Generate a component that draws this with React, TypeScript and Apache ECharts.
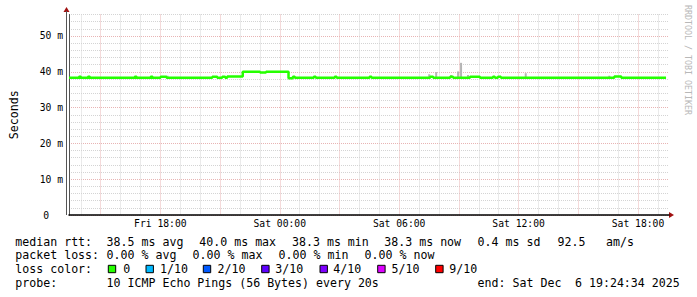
import React, { useEffect, useRef } from 'react';
import * as echarts from 'echarts';

// time in hours since Fri 00:00 (Dec 5 2025)
const lineTimes = [13.41, 13.91, 14.01, 14.36, 14.46, 16.71, 16.81, 17.51, 17.61, 18.01, 18.31, 20.61, 20.86, 21.11, 21.26, 21.36, 22.14, 23.01, 23.31, 24.44, 24.66, 24.76, 25.71, 25.81, 26.76, 26.86, 28.51, 28.61, 31.56, 31.71, 32.56, 32.71, 33.56, 34.06, 34.71, 34.81, 34.96, 35.11, 40.81, 41.16, 43.41];
const lineValues = [38.3, 38.6, 38.3, 38.6, 38.3, 38.6, 38.3, 38.6, 38.3, 38.6, 38.3, 38.6, 38.3, 38.6, 38.3, 38.7, 40.0, 39.8, 40.0, 38.2, 38.6, 38.3, 38.6, 38.3, 38.6, 38.3, 38.6, 38.3, 38.6, 38.3, 38.6, 38.3, 38.6, 38.3, 38.6, 38.3, 38.6, 38.3, 38.7, 38.3, 38.3];

const smokeTimes = [18.36, 31.51, 31.86, 32.61, 32.96, 33.11, 33.46, 36.36, 40.56];
const smokeLow = [38.2, 38.2, 38.2, 38.2, 38.2, 38.2, 38.2, 38.2, 38.2];
const smokeHigh = [38.9, 39.3, 39.9, 39.1, 40.1, 42.5, 39.1, 39.6, 38.9];

const labelHours = [18, 24, 30, 36, 42];
const labelTexts = ['Fri 18:00', 'Sat 00:00', 'Sat 06:00', 'Sat 12:00', 'Sat 18:00'];
const majorHours = [15, 18, 21, 24, 27, 30, 33, 36, 39, 42];
const minorHours = [14, 16, 17, 19, 20, 22, 23, 25, 26, 28, 29, 31, 32, 34, 35, 37, 38, 40, 41, 43];

const START = 13.409;
const XMAX = 43.559;

const legendLine1 = [
  [16, 'median rtt:'], [107.3, '38.5 ms avg'], [200, '40.0 ms max'], [292.7, '38.3 ms min'],
  [385, '38.3 ms now'], [478.3, '0.4 ms sd'], [558.3, '92.5'], [606.7, 'am/s'],
];
const legendLine2 = [
  [16, 'packet loss:'], [107.3, '0.00 % avg'], [193.3, '0.00 % max'], [279.3, '0.00 % min'], [365.3, '0.00 % now'],
];
const lossLabels = ['0', '1/10', '2/10', '3/10', '4/10', '5/10', '9/10'];
const lossColors = ['#26ff00', '#00b8ff', '#0059ff', '#5e00ff', '#7e00ff', '#dd00ff', '#ff0000'];
const lossBoxX = [108.3, 146, 203.3, 261.7, 320, 377.7, 435.7];
const lossTextX = [124, 160.7, 218.3, 276, 334, 392.3, 450];
const legendLine4 = [
  [16, 'probe:'], [107.3, '10 ICMP Echo Pings (56 Bytes) every 20s'], [478.3, 'end: Sat Dec'], [575.7, '6 19:24:34 2025'],
];

const MONO = '"DejaVu Sans Mono", monospace';
const RED = '#e8b4b4';
const GRAY = '#d4d4d4';

export default function App() {
  const ref = useRef<HTMLDivElement>(null);
  useEffect(() => {
    if (!ref.current) return;
    const chart = echarts.init(ref.current, null, { renderer: 'svg' });
    const txt = (x: number, y: number, s: string) => ({
      type: 'text', x, y, silent: true,
      style: { text: s, fill: '#000', fontFamily: MONO, fontSize: 11.6, verticalAlign: 'middle', align: 'left' },
    });
    const elements: any[] = [];
    legendLine1.forEach(([x, s]) => elements.push(txt(x as number - 0.7, 241.5, s as string)));
    legendLine2.forEach(([x, s]) => elements.push(txt(x as number - 0.7, 255.3, s as string)));
    elements.push(txt(15.3, 269, 'loss color:'));
    lossLabels.forEach((s, i) => {
      elements.push({ type: 'rect', silent: true, shape: { x: lossBoxX[i], y: 265.3, width: 7.4, height: 7.4 }, style: { fill: lossColors[i], stroke: '#000', lineWidth: 1 } });
      elements.push(txt(lossTextX[i] - 0.7, 269, s));
    });
    legendLine4.forEach(([x, s]) => elements.push(txt(x as number - 0.7, 283, s as string)));
    // watermark
    elements.push({
      type: 'text', x: 688, y: 60, rotation: -Math.PI / 2, silent: true,
      style: { text: 'RRDTOOL / TOBI OETIKER', fill: '#b8b8b8', fontFamily: MONO, fontSize: 8.3, align: 'center', verticalAlign: 'middle' },
    });
    // axis extensions and arrows
    elements.push({ type: 'line', silent: true, z: 10, shape: { x1: 66.5, y1: 215, x2: 66.5, y2: 11 }, style: { stroke: '#555', lineWidth: 1 } });
    elements.push({ type: 'polygon', silent: true, shape: { points: [[63.5, 12], [66.5, 7], [69.5, 12]] }, style: { fill: '#a01010' } });
    elements.push({ type: 'line', silent: true, shape: { x1: 669, y1: 215, x2: 670, y2: 215 }, style: { stroke: '#000', lineWidth: 1.5 } });
    elements.push({ type: 'polygon', silent: true, shape: { points: [[669, 212], [674, 215], [669, 218]] }, style: { fill: '#a01010' } });

    chart.setOption({
      animation: false,
      backgroundColor: '#fff',
      grid: { left: 66, top: 14.5, width: 603, height: 200.5, containLabel: false },
      xAxis: [
        {
          type: 'value', min: START, max: XMAX, position: 'bottom',
          axisLine: { show: true, lineStyle: { color: '#000', width: 1.5 } },
          axisTick: { show: false, customValues: majorHours },
          axisLabel: {
            customValues: labelHours, margin: 3, fontFamily: MONO, fontSize: 9.7, color: '#000',
            formatter: (v: number) => { const i = labelHours.indexOf(Math.round(v)); return i >= 0 ? labelTexts[i] : ''; },
          },
          splitLine: { show: true, lineStyle: { color: RED, width: 1, type: [1, 1] } },
        },
        {
          type: 'value', min: START, max: XMAX, position: 'bottom',
          axisLine: { show: false }, axisTick: { show: false, customValues: minorHours }, axisLabel: { show: false },
          splitLine: { show: true, lineStyle: { color: GRAY, width: 1, type: [1, 1] } },
        },
      ],
      yAxis: [
        {
          type: 'value', min: 0, max: 56, interval: 10, position: 'left',
          name: 'Seconds', nameLocation: 'middle', nameGap: 49,
          nameTextStyle: { fontFamily: MONO, fontSize: 11.6, color: '#000' },
          axisLine: { show: true, lineStyle: { color: '#555', width: 1 } },
          axisTick: { show: false },
          axisLabel: {
            showMaxLabel: false, margin: 6, fontFamily: MONO, fontSize: 9.7, color: '#000',
            formatter: (v: number) => (v === 0 ? '{z|0}' : `${v} m`),
            rich: { z: { fontFamily: MONO, fontSize: 9.7, color: '#000', padding: [0, 14, 0, 0] } },
          },
          splitLine: { show: true, lineStyle: { color: [RED, RED, RED, RED, RED, RED, 'transparent'], width: 1, type: [1, 1] } },
        },
        {
          type: 'value', min: 0, max: 56, interval: 2, position: 'left',
          axisLine: { show: false }, axisTick: { show: false }, axisLabel: { show: false },
          splitLine: { show: true, lineStyle: { color: ['transparent', GRAY, GRAY, GRAY, GRAY], width: 1, type: [1, 1] } },
        },
      ],
      series: [
        {
          type: 'custom', xAxisIndex: 0, yAxisIndex: 0, silent: true,
          encode: { x: 0, y: [1, 2] },
          data: smokeTimes.map((t, i) => [t, smokeLow[i], smokeHigh[i]]),
          renderItem: (params: any, api: any) => {
            const t = api.value(0);
            const lo = api.coord([t, api.value(1)]);
            const hi = api.coord([t, api.value(2)]);
            return {
              type: 'rect',
              shape: { x: lo[0] - 1, y: hi[1], width: 2, height: lo[1] - hi[1] },
              style: { fill: '#b4b4b4' },
            };
          },
        },
        {
          type: 'line', xAxisIndex: 0, yAxisIndex: 0, step: 'end', symbol: 'none', showSymbol: false, silent: true,
          lineStyle: { color: '#26ff00', width: 2.5 }, z: 5,
          data: lineTimes.map((t, i) => [t, lineValues[i]]),
        },
      ],
      graphic: { elements },
    });
    return () => chart.dispose();
  }, []);
  return <div ref={ref} style={{ position: 'fixed', left: 0, top: 0, width: 697, height: 297, background: '#fff' }} />;
}
